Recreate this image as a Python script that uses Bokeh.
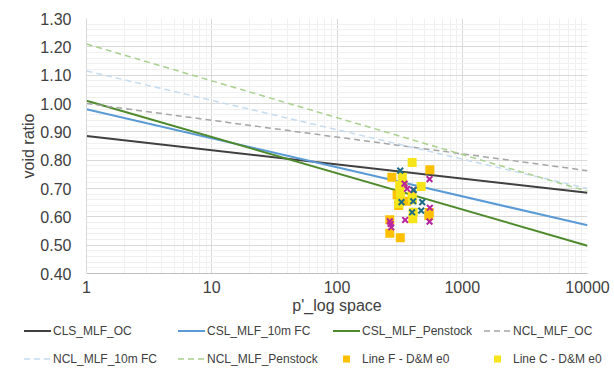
from bokeh.plotting import figure
from bokeh.layouts import column
from bokeh.models import FixedTicker, NumeralTickFormatter, Div
from bokeh.embed import file_html
from bokeh.resources import INLINE

# ---- data ----
p_ends = [1, 10000]
cls_mlf_oc = [0.885, 0.685]
csl_mlf_10m = [0.980, 0.570]
csl_mlf_pen = [1.010, 0.498]
ncl_mlf_oc = [1.000, 0.763]
ncl_mlf_10m = [1.115, 0.700]
ncl_mlf_pen = [1.210, 0.690]

lineF_p = [551, 274, 302, 359, 311, 541, 264, 264, 320, 335, 545]
lineF_e = [0.766, 0.740, 0.678, 0.655, 0.640, 0.605, 0.590, 0.542, 0.526, 0.717, 0.615]
lineC_p = [398, 332, 316, 470, 321, 398, 403, 406, 311, 400]
lineC_e = [0.792, 0.740, 0.711, 0.707, 0.681, 0.675, 0.593, 0.616, 0.647, 0.660]
mag_p = [548, 346, 363, 406, 551, 350, 264, 271, 548, 268]
mag_e = [0.733, 0.717, 0.699, 0.695, 0.632, 0.589, 0.584, 0.563, 0.583, 0.575]
teal_p = [320, 410, 327, 406, 479, 398, 470]
teal_e = [0.763, 0.695, 0.652, 0.655, 0.652, 0.616, 0.622]

y_ticks = [0.4, 0.5, 0.6, 0.7, 0.8, 0.9, 1.0, 1.1, 1.2, 1.3]
x_ticks = [1, 10, 100, 1000, 10000]

legend_labels = ["CLS_MLF_OC", "CSL_MLF_10m FC", "CSL_MLF_Penstock", "NCL_MLF_OC",
                 "NCL_MLF_10m FC", "NCL_MLF_Penstock", "Line F - D&M e0", "Line C - D&M e0"]

FONT = "Liberation Sans"
TXT = "#404040"

line_styles = [
    dict(line_color="#404040", line_width=2),
    dict(line_color="#5b9bd5", line_width=2),
    dict(line_color="#4e8a2c", line_width=2),
    dict(line_color="#a5a5a5", line_width=1.5, line_dash="6 4"),
    dict(line_color="#c5dcf0", line_width=1.5, line_dash="6 4"),
    dict(line_color="#a9d18e", line_width=1.5, line_dash="6 4"),
]
sq_colors = ["#ffc000", "#f7e51c"]

p = figure(frame_width=501, frame_height=255, x_axis_type="log", x_range=(1, 10000),
           y_range=(0.4, 1.3), output_backend="svg", toolbar_location=None,
           min_border_left=86, min_border_right=27, min_border_top=18,
           min_border_bottom=40)
p.outline_line_color = None
p.background_fill_color = "white"

y_minor = [round(0.4 + 0.02 * i, 2) for i in range(46)]
x_minor = [k * 10 ** d for d in range(4) for k in range(2, 10)]
p.yaxis.ticker = FixedTicker(ticks=y_ticks, minor_ticks=y_minor)
p.xaxis.ticker = FixedTicker(ticks=x_ticks, minor_ticks=x_minor)
p.yaxis.formatter = NumeralTickFormatter(format="0.00")
p.xaxis.formatter = NumeralTickFormatter(format="0")

for g in (p.xgrid, p.ygrid):
    g.grid_line_color = "#d9d9d9"
    g.grid_line_width = 1
    g.minor_grid_line_color = "#f0f0f0"
    g.minor_grid_line_width = 1

for ax in (p.xaxis, p.yaxis):
    ax.major_tick_line_color = None
    ax.minor_tick_line_color = None
    ax.major_tick_out = 0
    ax.major_tick_in = 0
    ax.minor_tick_out = 0
    ax.minor_tick_in = 0
    ax.major_label_text_font = FONT
    ax.major_label_text_font_size = "16px"
    ax.major_label_text_color = TXT
    ax.axis_label_text_font = FONT
    ax.axis_label_text_font_size = "16px"
    ax.axis_label_text_font_style = "normal"
    ax.axis_label_text_color = TXT
p.yaxis.axis_line_color = "#d9d9d9"
p.xaxis.axis_line_color = "#bfbfbf"
p.yaxis.major_label_standoff = 15
p.xaxis.major_label_standoff = 7
p.yaxis.axis_label = "void ratio"
p.xaxis.axis_label = "p'_log space"
p.yaxis.axis_label_standoff = 0
p.xaxis.axis_label_standoff = 1

series = [cls_mlf_oc, csl_mlf_10m, csl_mlf_pen, ncl_mlf_oc, ncl_mlf_10m, ncl_mlf_pen]
for ys, st in zip(series, line_styles):
    p.line(p_ends, ys, **st)

p.scatter(lineF_p, lineF_e, marker="square", size=9, fill_color=sq_colors[0],
          line_color=sq_colors[0], line_width=0)
p.scatter(lineC_p, lineC_e, marker="square", size=9, fill_color=sq_colors[1],
          line_color=sq_colors[1], line_width=0)
p.scatter(mag_p, mag_e, marker="x", size=8, line_color="#b8239e", line_width=2)
p.scatter(teal_p, teal_e, marker="x", size=8, line_color="#1e6b86", line_width=2)

# ---- legend strip below the plot (HTML, real text) ----
col_x = [24, 178, 333, 484]
row_y = [6, 34]


def glyph_svg(i):
    if i < 6:
        st = line_styles[i]
        dash = st.get("line_dash")
        da = f' stroke-dasharray="{dash}"' if dash else ""
        return (f'<svg width="27" height="18" style="display:block">'
                f'<line x1="0" y1="9" x2="27" y2="9" stroke="{st["line_color"]}" '
                f'stroke-width="{st["line_width"]}"{da}/></svg>')
    c = sq_colors[i - 6]
    return (f'<svg width="27" height="18" style="display:block">'
            f'<rect x="10" y="5.5" width="7" height="7" fill="{c}"/></svg>')


parts = []
for i, lab in enumerate(legend_labels):
    x = col_x[i % 4]
    y = row_y[i // 4]
    parts.append(
        f'<div style="position:absolute;left:{x}px;top:{y}px;height:18px;'
        f'display:flex;align-items:center;white-space:nowrap;">'
        f'{glyph_svg(i)}<span style="margin-left:2px;font-family:\'{FONT}\';'
        f'font-size:12px;color:{TXT};line-height:18px;">{lab.replace("&", "&amp;")}</span></div>'
    )
html = ('<div style="position:relative;width:614px;height:54px;margin:0;padding:0;">'
        + "".join(parts) + "</div>")
leg = Div(text=html, width=614, height=54, margin=(0, 0, 0, 0))

layout = column(p, leg, spacing=0)
open("out.html", "w").write(file_html(layout, INLINE))
